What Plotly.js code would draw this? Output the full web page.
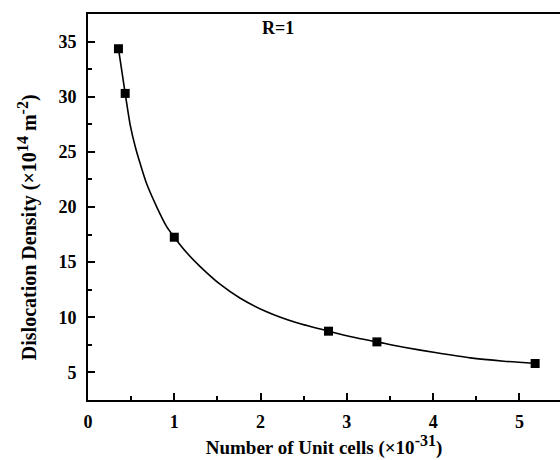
<!DOCTYPE html>
<html>
<head>
<meta charset="utf-8">
<script src="https://cdn.plot.ly/plotly-3.0.1.min.js"></script>
<style>html,body{margin:0;padding:0;background:#fff;overflow:hidden}</style>
</head>
<body>
<div id="chart" style="width:560px;height:460px"></div>
<script>
const unitCells = [0.353, 0.431, 1.0, 2.787, 3.348, 5.182];
const dislocationDensity = [34.35, 30.3, 17.26, 8.74, 7.77, 5.81];
// Fitted curve
const curveX = [0.353, 0.431, 0.49, 0.55, 0.61, 0.68, 0.80, 0.91, 1.0, 1.15, 1.3, 1.53, 1.76, 2.07, 2.42, 2.787, 3.12, 3.348, 3.66, 4.04, 4.43, 4.82, 5.182];
const curveY = [34.35, 30.3, 27.4, 25.4, 23.8, 22.1, 19.95, 18.25, 17.26, 15.8, 14.6, 13.0, 11.75, 10.5, 9.5, 8.74, 8.12, 7.77, 7.28, 6.78, 6.32, 6.02, 5.81];
const xTickVals = [0, 1, 2, 3, 4, 5];
const yTickVals = [5, 10, 15, 20, 25, 30, 35];

const font = 'Liberation Serif, Times New Roman, serif';
const sup = s => '<sup><span style="font-size:16px">' + s + '</span></sup>';

const traces = [{
  x: curveX,
  y: curveY,
  type: 'scatter',
  mode: 'lines',
  line: {color: '#000', width: 1.6, shape: 'spline', smoothing: 0.6},
  showlegend: false,
  hoverinfo: 'skip'
}, {
  x: unitCells,
  y: dislocationDensity,
  type: 'scatter',
  mode: 'markers',
  marker: {symbol: 'square', size: 9, color: '#000'},
  showlegend: false,
  hoverinfo: 'x+y'
}];

const layout = {
  width: 560, height: 460,
  margin: {l: 88, r: 0, t: 14, b: 60},
  paper_bgcolor: '#fff', plot_bgcolor: '#fff',
  font: {family: font, color: '#000'},
  xaxis: {
    range: [0, 5.47],
    tickvals: xTickVals,
    ticktext: xTickVals.map(String),
    showgrid: false, zeroline: false,
    showline: true, linecolor: '#000', linewidth: 2,
    mirror: true,
    ticks: 'inside', ticklen: 7, tickwidth: 2, tickcolor: '#000',
    minor: {dtick: 0.5, ticks: 'inside', ticklen: 4, tickwidth: 2, tickcolor: '#000'},
    tickfont: {family: font, size: 18, color: '#000', weight: 'bold'},
    ticklabelstandoff: 4,
    title: {text: 'Number of Unit cells (×10' + sup('-31') + ')', font: {family: font, size: 19, color: '#000', weight: 'bold'}, standoff: 4}
  },
  yaxis: {
    range: [2.5, 37.5],
    tickvals: yTickVals,
    ticktext: yTickVals.map(String),
    showgrid: false, zeroline: false,
    showline: true, linecolor: '#000', linewidth: 2,
    mirror: false,
    ticks: 'inside', ticklen: 7, tickwidth: 2, tickcolor: '#000',
    minor: {dtick: 2.5, ticks: 'inside', ticklen: 4, tickwidth: 2, tickcolor: '#000'},
    tickfont: {family: font, size: 18, color: '#000', weight: 'bold'},
    ticklabelstandoff: 6
  },
  annotations: [{
    text: 'R=1', xref: 'paper', yref: 'paper', x: 0.4025, y: 0.9645,
    xanchor: 'center', yanchor: 'middle', showarrow: false,
    font: {family: font, size: 18, color: '#000', weight: 'bold'}
  }, {
    text: 'Dislocation Density (×10' + sup('14') + ' m' + sup('-2') + ')',
    xref: 'paper', yref: 'paper', x: -0.129, y: 0.448,
    xanchor: 'center', yanchor: 'middle', textangle: -90, showarrow: false,
    font: {family: font, size: 20, color: '#000', weight: 'bold'}
  }]
};

Plotly.newPlot('chart', traces, layout, {displayModeBar: false, staticPlot: true});
</script>
</body>
</html>
